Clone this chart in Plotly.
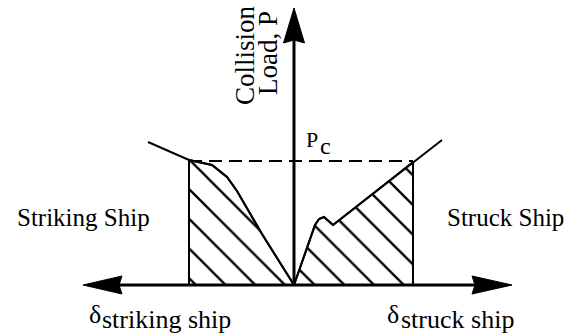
import plotly.graph_objects as go

# load-deflection curves (deflection in px-like units, load in same units)
striking_delta = [0, 32, 57, 67, 82, 105, 146]
striking_load = [0, 51, 94, 108, 120, 125, 143]
struck_delta = [0, 21, 25, 30, 39, 119, 148]
struck_load = [0, 60, 66, 68, 60, 123, 145]
pc = 124
striking_at_pc = 105
struck_at_pc = 119

FONT = "Liberation Serif"
hatch = dict(shape="\\", size=21, solidity=0.11, fgcolor="black", bgcolor="white", fgopacity=1)

fig = go.Figure()

# hatched energy areas
n1 = striking_delta.index(striking_at_pc) + 1
fig.add_trace(go.Scatter(
    x=[-d for d in striking_delta[:n1]] + [-striking_at_pc, 0],
    y=striking_load[:n1] + [0, 0],
    fill="toself", fillcolor="white", mode="lines",
    line=dict(color="black", width=2), fillpattern=hatch, hoverinfo="skip"))
n2 = struck_delta.index(struck_at_pc) + 1
fig.add_trace(go.Scatter(
    x=struck_delta[:n2] + [struck_at_pc, 0],
    y=struck_load[:n2] + [0, 0],
    fill="toself", fillcolor="white", mode="lines",
    line=dict(color="black", width=2), fillpattern=hatch, hoverinfo="skip"))

# full curves
fig.add_trace(go.Scatter(x=[-d for d in striking_delta], y=striking_load, mode="lines",
                         line=dict(color="black", width=2), hoverinfo="skip"))
fig.add_trace(go.Scatter(x=struck_delta, y=struck_load, mode="lines",
                         line=dict(color="black", width=2), hoverinfo="skip"))

# Pc level
fig.add_trace(go.Scatter(x=[-striking_at_pc, struck_at_pc], y=[pc, pc], mode="lines",
                         line=dict(color="black", width=2, dash="13px,7px"), hoverinfo="skip"))

# axes with arrowheads
fig.add_shape(type="line", x0=-205, y0=0, x1=212, y1=0, line=dict(color="black", width=3))
fig.add_shape(type="line", x0=0, y0=0, x1=0, y1=270, line=dict(color="black", width=3))
arrow = dict(type="path", fillcolor="black", line=dict(color="black", width=1))
fig.add_shape(path="M -211,0 L -172,9 L -175,0 L -172,-9 Z", **arrow)
fig.add_shape(path="M 218,0 L 178,9 L 181,0 L 178,-9 Z", **arrow)
fig.add_shape(path="M 0,277 L 10.5,242 L 0,245 L -10.5,242 Z", **arrow)

# labels
def label(text, x, y, size=25, xanchor="left", angle=0):
    fig.add_annotation(x=x, y=y, text=text, showarrow=False, xanchor=xanchor,
                       yanchor="middle", textangle=angle,
                       font=dict(family=FONT, size=size, color="black"))

label("Striking Ship", -279, 68)
label("Struck Ship", 151, 68)
label("Collision", -49, 230, size=27, xanchor="center", angle=-90)
label("Load, P", -26, 232, size=27, xanchor="center", angle=-90)
label("P", 10, 146, size=22)
label("c", 24, 139, size=24)
label("δ", -207, -29, size=26)
label("striking ship", -194, -34, size=26)
label("δ", 91, -29, size=26)
label("struck ship", 105, -34, size=26)

fig.update_xaxes(range=[-294, 282], visible=False, fixedrange=True)
fig.update_yaxes(range=[-48, 285], visible=False, fixedrange=True)
fig.update_layout(width=576, height=333, margin=dict(l=0, r=0, t=0, b=0),
                  showlegend=False, plot_bgcolor="white", paper_bgcolor="white")

fig.write_html("out.html", config={"displayModeBar": False},
               post_script="document.body.style.margin='0';document.body.style.overflow='hidden';")
